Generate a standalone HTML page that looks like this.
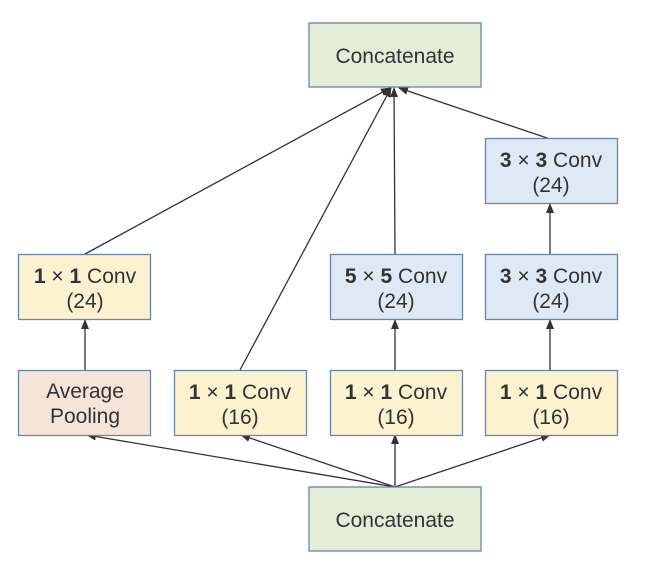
<!DOCTYPE html>
<html><head><style>
body{margin:0;background:#fff;}
text{font-family:"Liberation Sans","DejaVu Sans",sans-serif;font-size:21px;fill:#333;text-anchor:middle;}
</style></head><body>
<svg width="650" height="578" viewBox="0 0 650 578" xmlns="http://www.w3.org/2000/svg">
<defs><marker id="a" markerWidth="10" markerHeight="8" refX="9" refY="4" orient="auto" markerUnits="userSpaceOnUse"><path d="M0,0 L10,4 L0,8 z" fill="#333"/></marker></defs>
<g stroke="#333" stroke-width="1.3" fill="none" marker-end="url(#a)">
<line x1="395" y1="487" x2="87" y2="435"/>
<line x1="395" y1="487" x2="241" y2="435"/>
<line x1="395" y1="487" x2="395" y2="435"/>
<line x1="395" y1="487" x2="550" y2="435"/>
<line x1="85" y1="370" x2="85" y2="320"/>
<line x1="395" y1="370" x2="395" y2="320"/>
<line x1="550" y1="370" x2="550" y2="320"/>
<line x1="550" y1="254" x2="550" y2="204"/>
<line x1="85" y1="254" x2="390" y2="88"/>
<line x1="240" y1="370" x2="391" y2="88"/>
<line x1="395" y1="254" x2="394" y2="88"/>
<line x1="550" y1="139" x2="399" y2="88"/>
</g>
<g stroke="#6a86a6" stroke-width="1.3">
<rect x="309" y="23" width="172" height="64" fill="#e3eed9"/>
<rect x="309" y="487" width="172" height="64" fill="#e3eed9"/>
<rect x="18.5" y="254.5" width="132" height="65" fill="#fdf2d0"/>
<rect x="330.5" y="254.5" width="132" height="65" fill="#dfe9f5"/>
<rect x="485.5" y="254.5" width="132" height="65" fill="#dfe9f5"/>
<rect x="485.5" y="138.5" width="132" height="65" fill="#dfe9f5"/>
<rect x="18.5" y="370.5" width="132" height="65" fill="#f7e4d9"/>
<rect x="174.5" y="370.5" width="132" height="65" fill="#fdf2d0"/>
<rect x="330.5" y="370.5" width="132" height="65" fill="#fdf2d0"/>
<rect x="485.5" y="370.5" width="132" height="65" fill="#fdf2d0"/>
</g>
<text x="395" y="63">Concatenate</text>
<text x="395" y="527">Concatenate</text>
<text x="85" y="283"><tspan font-weight="bold">1</tspan> × <tspan font-weight="bold">1</tspan> Conv</text><text x="85" y="308">(24)</text>
<text x="396" y="283"><tspan font-weight="bold">5</tspan> × <tspan font-weight="bold">5</tspan> Conv</text><text x="396" y="308">(24)</text>
<text x="551" y="283"><tspan font-weight="bold">3</tspan> × <tspan font-weight="bold">3</tspan> Conv</text><text x="551" y="308">(24)</text>
<text x="551" y="167"><tspan font-weight="bold">3</tspan> × <tspan font-weight="bold">3</tspan> Conv</text><text x="551" y="192">(24)</text>
<text x="85" y="398">Average</text><text x="85" y="423">Pooling</text>
<text x="240" y="399"><tspan font-weight="bold">1</tspan> × <tspan font-weight="bold">1</tspan> Conv</text><text x="240" y="424">(16)</text>
<text x="396" y="399"><tspan font-weight="bold">1</tspan> × <tspan font-weight="bold">1</tspan> Conv</text><text x="396" y="424">(16)</text>
<text x="551" y="399"><tspan font-weight="bold">1</tspan> × <tspan font-weight="bold">1</tspan> Conv</text><text x="551" y="424">(16)</text>
</svg>
</body></html>
